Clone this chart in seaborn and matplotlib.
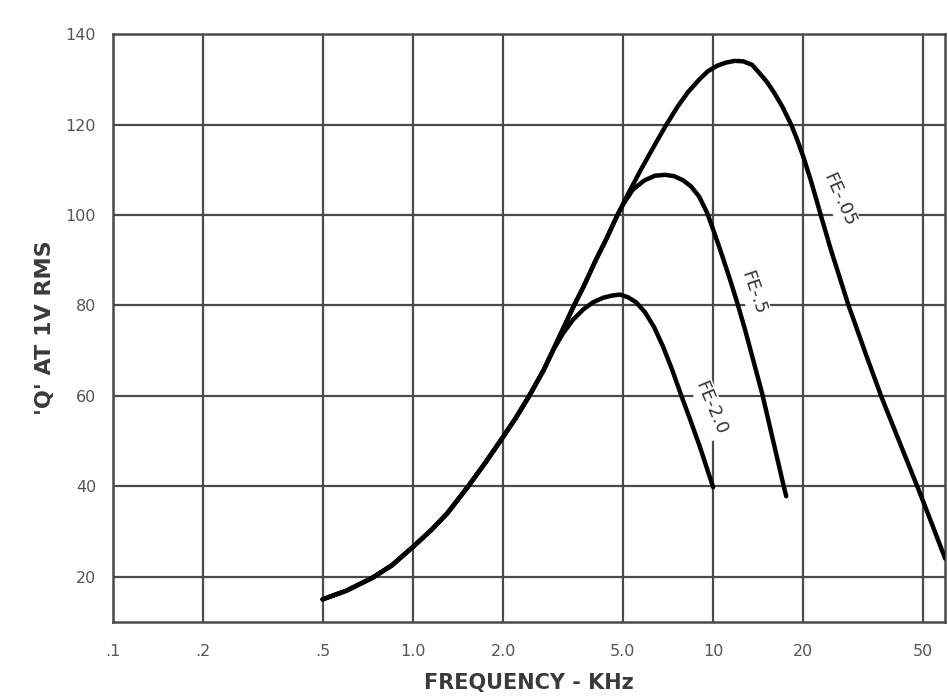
import numpy as np
import pandas as pd
import matplotlib
matplotlib.use("Agg")
import matplotlib.pyplot as plt
import seaborn as sns
from matplotlib.ticker import NullLocator, FixedLocator

# rising part shared by all three curves (kHz, Q)
rise_khz = [0.5, 0.6, 0.73, 0.85, 1.0, 1.15, 1.3, 1.52, 1.75, 2.0, 2.2, 2.43, 2.73]
rise_q = [15, 16.9, 19.7, 22.5, 26.6, 30.3, 34.0, 39.8, 45.4, 51.0, 55.1, 59.8, 65.8]

# part shared by FE-.05 and FE-.5
mid_khz = [3.13, 3.4, 3.71, 4.05, 4.4, 4.8]
mid_q = [74.2, 79.3, 84.3, 89.8, 94.6, 100]

fe05_khz = [5.2, 5.7, 6.3, 6.93, 7.6, 8.25, 9.0, 9.6, 10.3, 11.0, 11.8, 12.6,
            13.5, 14.44, 15.2, 15.96, 17.0, 18.2, 19.05, 19.95, 21.06, 22.04,
            22.9, 24.74, 28.2, 32.4, 36.6, 42.0, 48.2, 53.7, 59.3]
fe05_q = [104.6, 109.6, 114.8, 119.6, 123.9, 127.2, 130.0, 131.8, 133.0, 133.7,
          134.1, 134.0, 133.2, 131.0, 129.2, 127.1, 124.0, 120.0, 116.7, 113.0,
          108.1, 103.6, 99.7, 92.1, 80.2, 68.9, 59.3, 49.4, 39.5, 31.5, 24.0]

fe5_khz = [5.02, 5.4, 5.88, 6.4, 6.93, 7.41, 7.94, 8.45, 8.98, 9.55, 10.15,
           10.72, 11.4, 12.02, 12.78, 13.59, 14.57, 15.73, 17.12, 17.52]
fe5_q = [102.4, 105.6, 107.6, 108.7, 108.9, 108.6, 107.7, 106.3, 104.1, 100.5,
         95.6, 91.0, 85.6, 80.7, 74.6, 68.0, 60.5, 51.0, 40.5, 37.8]

fe2_khz = [2.93, 3.16, 3.41, 3.69, 3.98, 4.3, 4.61, 4.9, 5.21, 5.54, 5.93,
           6.36, 6.81, 7.3, 7.88, 8.38, 9.05, 10.0]
fe2_q = [70.1, 73.8, 76.8, 79.1, 80.7, 81.7, 82.2, 82.4, 81.8, 80.7, 78.5,
         75.2, 70.9, 65.8, 59.6, 54.8, 48.6, 39.8]

x_ticks = [0.1, 0.2, 0.5, 1.0, 2.0, 5.0, 10, 20, 50]
x_labels = [".1", ".2", ".5", "1.0", "2.0", "5.0", "10", "20", "50"]
y_ticks = [20, 40, 60, 80, 100, 120, 140]

curve_names = ["FE-.05", "FE-.5", "FE-2.0"]
curves = {
    "FE-.05": (rise_khz + mid_khz + fe05_khz, rise_q + mid_q + fe05_q),
    "FE-.5": (rise_khz + mid_khz + fe5_khz, rise_q + mid_q + fe5_q),
    "FE-2.0": (rise_khz + fe2_khz, rise_q + fe2_q),
}
df = pd.concat([pd.DataFrame({"khz": fx, "q": fq, "curve": n})
                for n, (fx, fq) in curves.items()], ignore_index=True)

sns.set_theme(style="white")
plt.rcParams['font.family'] = ['DejaVu Sans']

fig = plt.figure(figsize=(9.48, 6.98), dpi=100)
ax = fig.add_axes([0.119, 0.109, 0.878, 0.842])

sns.lineplot(data=df, x="khz", y="q", hue="curve", units="curve", estimator=None,
             palette={n: "black" for n in curve_names}, legend=False,
             linewidth=3.2, zorder=3, solid_joinstyle="round", ax=ax)

ax.set_xscale("log")
ax.set_xlim(0.1, 59.3)
ax.set_ylim(10, 140)
ax.xaxis.set_major_locator(FixedLocator(x_ticks))
ax.xaxis.set_minor_locator(NullLocator())
ax.set_xticklabels(x_labels)
ax.set_yticks(y_ticks)

ax.grid(True, which="major", color="#4a4a4a", linewidth=1.6)
ax.set_axisbelow(True)
for s in ax.spines.values():
    s.set_visible(True)
    s.set_color("#4a4a4a")
    s.set_linewidth(1.8)

ax.tick_params(axis="both", length=0, labelsize=11.5, labelcolor="#555555")
ax.tick_params(axis="x", pad=16)
ax.tick_params(axis="y", pad=12)

ax.set_xlabel("FREQUENCY - KHz", fontsize=15, fontweight="bold", color="#3a3a3a", labelpad=10)
ax.set_ylabel("'Q' AT 1V RMS", fontsize=16, fontweight="bold", color="#3a3a3a", labelpad=8)

# curve labels written along the falling sides
label_pos = [(26.3, 103.3, -66), (13.6, 82.9, -71), (9.85, 57.3, -67)]
for name, (lx, ly, rot) in zip(curve_names, label_pos):
    ax.text(lx, ly, name, rotation=rot, rotation_mode="anchor", ha="center", va="center",
            fontsize=13, color="#333333", zorder=2.5,
            bbox=dict(facecolor="white", edgecolor="none", pad=2))

fig.savefig("out.png", dpi=100)
